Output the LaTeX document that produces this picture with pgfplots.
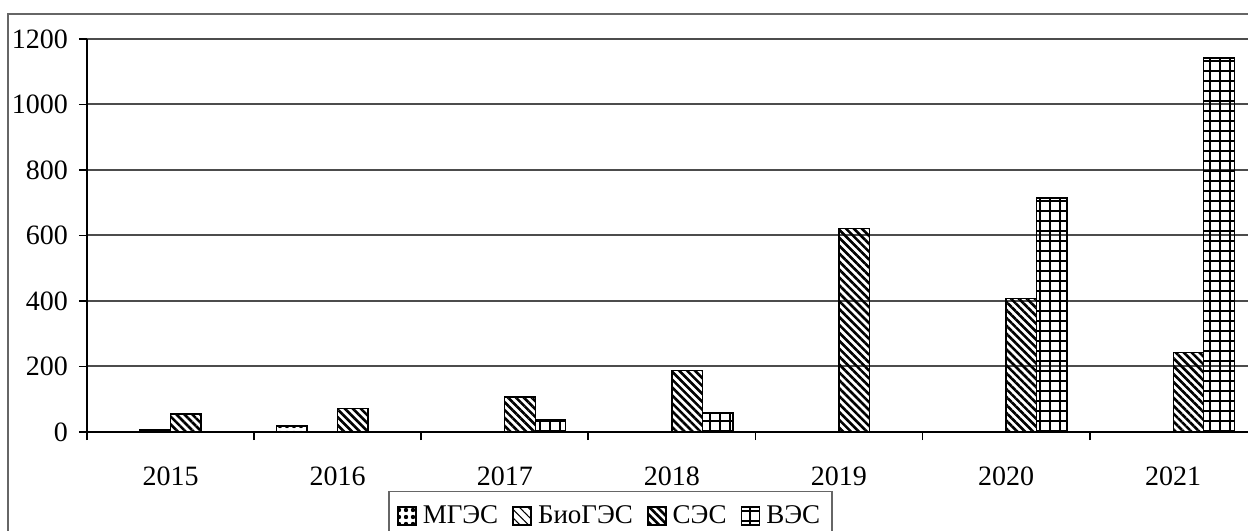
\documentclass[border=0pt]{standalone}
\usepackage{fontspec}
\setmainfont{Liberation Serif}
\usepackage{pgfplots}
\pgfplotsset{compat=1.18}
\usetikzlibrary{patterns.meta}
\pgfplotsset{
  myleg/.style={legend image code/.code={\draw[##1,line width=0.9bp] (0bp,-4.5bp) rectangle (9bp,4.5bp);}},
}
\begin{document}
\begin{tikzpicture}[font=\fontsize{14bp}{16bp}\selectfont]
\useasboundingbox (-43.5bp,-49.5bp) rectangle (580.5bp,216bp);
\clip (-43.5bp,-49.5bp) rectangle (580.5bp,216bp);
\draw[black!60, line width=1.1bp] (-39.5bp,-120bp) rectangle (700bp,209bp);
\begin{axis}[
  at={(0,0)}, anchor=south west,
  scale only axis, width=580.7bp, height=196.5bp,
  xmin=-0.5, xmax=6.45, ymin=0, ymax=1200,
  axis x line*=bottom, axis y line*=left,
  axis line style={-, line width=0.9bp, black},
  tick align=outside, major tick length=4bp,
  tick style={black, line width=0.9bp},
  xtick={-0.5,0.5,1.5,2.5,3.5,4.5,5.5}, xticklabels={},
  extra x ticks={0,1,2,3,4,5,6},
  extra x tick labels={2015,2016,2017,2018,2019,2020,2021},
  extra x tick style={major tick length=0pt, xticklabel style={yshift=-14bp}},
  ytick={0,200,400,600,800,1000,1200},
  yticklabel style={xshift=-2bp},
  /pgf/number format/assume math mode=true,
  /pgf/number format/1000 sep={},
  ymajorgrids, major grid style={black!70, line width=1bp},
  ybar, bar width=0.1825,
  legend columns=4,
  legend style={at={(axis description cs:0.4508,-0.2137)}, anchor=center,
    draw=black!60, line width=0.9bp, inner ysep=5bp, inner xsep=4bp,
    /tikz/every even column/.append style={column sep=5bp},
    /tikz/every odd column/.append style={column sep=1bp},
    font=\fontsize{13.5bp}{16bp}\selectfont},
  legend cell align=left,
]
\addplot[draw=black, line width=0.7bp, bar shift=-0.27375, pattern={Dots[distance=3.5bp, radius=1.1bp]}, myleg]
  coordinates {(1,18)};
\addlegendentry{МГЭС}
\addplot[draw=black, line width=0.7bp, bar shift=-0.09125, pattern={Lines[angle=-45, distance=3bp, line width=0.5bp]}, myleg]
  coordinates {(0,6)};
\addlegendentry{БиоГЭС}
\addplot[draw=black, line width=0.7bp, bar shift=0.09125, pattern={Lines[angle=-45, distance=2.8bp, line width=1.3bp]}, myleg]
  coordinates {(0,55) (1,72) (2,107) (3,187) (4,622) (5,407) (6,242)};
\addlegendentry{СЭС}
\addplot[draw=black, line width=0.7bp, bar shift=0.27375, pattern={Hatch[angle=0, distance=5bp, line width=1bp]}, myleg]
  coordinates {(2,37) (3,58) (5,715) (6,1142)};
\addlegendentry{ВЭС}
\end{axis}
\end{tikzpicture}
\end{document}
